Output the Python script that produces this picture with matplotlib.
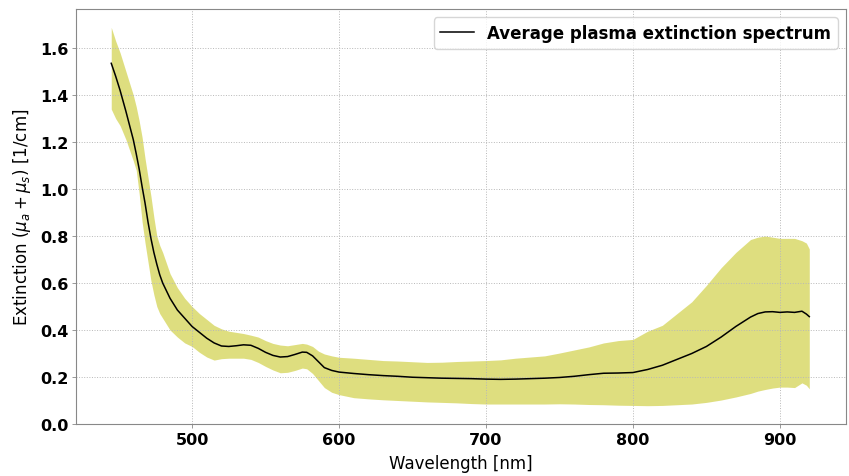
import numpy as np
import matplotlib
matplotlib.use("Agg")
import matplotlib.pyplot as plt

wavelength = [445, 448, 451, 455, 460, 462, 464, 466, 468, 470, 472, 474, 476, 478, 480,
              485, 490, 495, 500, 505, 510, 515, 520, 525, 530, 535, 540, 545, 550, 555,
              560, 565, 570, 575, 578, 582, 586, 590, 595, 600, 610, 620, 630, 640, 650,
              660, 670, 680, 690, 700, 710, 720, 730, 740, 750, 760, 770, 780, 790, 800,
              810, 820, 830, 840, 850, 860, 870, 880, 885, 890, 895, 900, 905, 910, 915,
              918, 920]

mean_ext = [1.535, 1.48, 1.42, 1.33, 1.21, 1.15, 1.085, 1.01, 0.94, 0.86, 0.79, 0.73, 0.68, 0.635, 0.60,
            0.535, 0.485, 0.45, 0.415, 0.39, 0.365, 0.345, 0.332, 0.33, 0.333, 0.337, 0.335, 0.322, 0.305, 0.292,
            0.285, 0.287, 0.296, 0.306, 0.305, 0.29, 0.265, 0.24, 0.228, 0.221, 0.215, 0.21, 0.206, 0.203, 0.199,
            0.197, 0.195, 0.194, 0.193, 0.191, 0.19, 0.191, 0.193, 0.195, 0.198, 0.203, 0.21, 0.216, 0.217, 0.219,
            0.232, 0.25, 0.275, 0.30, 0.33, 0.37, 0.415, 0.455, 0.47, 0.477, 0.478, 0.475, 0.477, 0.475, 0.48,
            0.468, 0.457]

upper_ext = [1.688, 1.63, 1.58, 1.50, 1.40, 1.35, 1.29, 1.22, 1.13, 1.05, 0.97, 0.88, 0.80, 0.76, 0.73,
             0.64, 0.58, 0.535, 0.50, 0.47, 0.445, 0.42, 0.405, 0.395, 0.39, 0.385, 0.378, 0.37, 0.355, 0.343,
             0.336, 0.333, 0.338, 0.343, 0.34, 0.33, 0.31, 0.298, 0.29, 0.284, 0.28, 0.275, 0.27, 0.268, 0.265,
             0.262, 0.263, 0.266, 0.268, 0.27, 0.273, 0.28, 0.285, 0.29, 0.302, 0.315, 0.328, 0.345, 0.355, 0.36,
             0.395, 0.42, 0.47, 0.52, 0.59, 0.665, 0.73, 0.785, 0.795, 0.80, 0.795, 0.79, 0.79, 0.79, 0.78,
             0.77, 0.745]

lower_ext = [1.34, 1.30, 1.27, 1.21, 1.12, 1.08, 0.98, 0.86, 0.77, 0.69, 0.61, 0.55, 0.50, 0.47, 0.45,
             0.40, 0.37, 0.345, 0.33, 0.305, 0.285, 0.272, 0.278, 0.28, 0.28, 0.28, 0.275, 0.262, 0.245, 0.23,
             0.218, 0.22, 0.228, 0.238, 0.235, 0.215, 0.185, 0.155, 0.135, 0.125, 0.112, 0.107, 0.103, 0.10, 0.097,
             0.094, 0.092, 0.09, 0.087, 0.085, 0.085, 0.085, 0.085, 0.085, 0.086, 0.085, 0.083, 0.082, 0.08, 0.079,
             0.078, 0.079, 0.082, 0.085, 0.092, 0.102, 0.115, 0.13, 0.14, 0.147, 0.153, 0.157, 0.157, 0.155, 0.175,
             0.165, 0.15]

yticks = [0.0, 0.2, 0.4, 0.6, 0.8, 1.0, 1.2, 1.4, 1.6]
xticks = [500, 600, 700, 800, 900]

fig = plt.figure(figsize=(8.49, 4.77), dpi=100)
ax = fig.add_axes([0.0895, 0.109, 0.907, 0.870])

ax.fill_between(wavelength, lower_ext, upper_ext, color="y", alpha=0.5, linewidth=0)
ax.plot(wavelength, mean_ext, color="black", linewidth=1.1, label="Average plasma extinction spectrum")

ax.set_xlim(421, 945)
ax.set_ylim(0, 1.766)
ax.set_xticks(xticks)
ax.set_yticks(yticks)
ax.set_yticklabels(["%.1f" % t for t in yticks])
ax.tick_params(length=3, width=0.6, pad=2.5, colors="#888888", labelcolor="black")
for lab in ax.get_xticklabels() + ax.get_yticklabels():
    lab.set_fontweight("bold")
    lab.set_fontsize(11.5)

ax.grid(True, linestyle=":", color="#b8b8b8", linewidth=0.7)
for s in ax.spines.values():
    s.set_color("#888888")

ax.set_xlabel("Wavelength [nm]", fontsize=12, labelpad=5)
ax.set_ylabel(r"Extinction ($\mu_a + \mu_s$) [1/cm]", fontsize=12, labelpad=5)
ax.legend(loc="upper right", prop={"weight": "bold", "size": 12})

fig.savefig("out.png", dpi=100)
